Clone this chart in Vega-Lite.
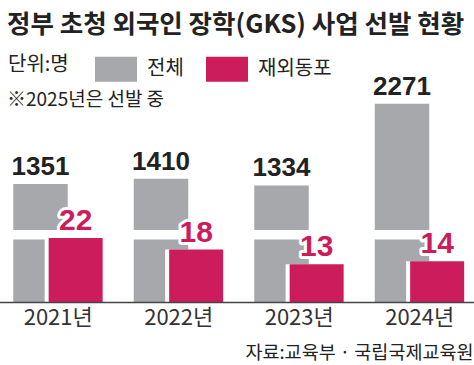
{
  "$schema": "https://vega.github.io/schema/vega-lite/v6.json",
  "width": 474,
  "height": 262,
  "autosize": "none",
  "padding": {"top": 40, "left": 0, "right": 0, "bottom": 63},
  "background": "white",
  "config": {"view": {"stroke": null}, "font": "Noto Sans CJK KR"},
  "title": {
    "text": "정부 초청 외국인 장학(GKS) 사업 선발 현황",
    "subtitle": "※2025년은 선발 중",
    "anchor": "start",
    "frame": "group",
    "orient": "top",
    "offset": -70,
    "dx": 7,
    "fontSize": 25.5,
    "fontWeight": "bold",
    "font": "Noto Sans CJK KR",
    "color": "#222222",
    "subtitleFontSize": 19,
    "subtitleColor": "#222222",
    "subtitleFont": "Noto Sans CJK KR",
    "subtitlePadding": 53
  },
  "data": {
    "values": [
      {"year": "2021년", "series": "전체", "value": 1351},
      {"year": "2022년", "series": "전체", "value": 1410},
      {"year": "2023년", "series": "전체", "value": 1334},
      {"year": "2024년", "series": "전체", "value": 2271},
      {"year": "2021년", "series": "재외동포", "value": 22},
      {"year": "2022년", "series": "재외동포", "value": 18},
      {"year": "2023년", "series": "재외동포", "value": 13},
      {"year": "2024년", "series": "재외동포", "value": 14}
    ]
  },
  "encoding": {
    "x": {
      "field": "year",
      "type": "nominal",
      "scale": {"range": [-2, 480], "paddingInner": 0, "paddingOuter": 0},
      "axis": {
        "labelAngle": 0,
        "labelFont": "Noto Sans CJK KR",
        "labelFontSize": 22,
        "labelColor": "#333333",
        "labelPadding": 5,
        "ticks": false,
        "domainColor": "#444444",
        "domainWidth": 1.5,
        "zindex": 1,
        "title": "자료:교육부 · 국립국제교육원",
        "titleFont": "Noto Sans CJK KR",
        "titleFontSize": 18.5,
        "titleFontWeight": "normal",
        "titleColor": "#222222",
        "titleAnchor": "end",
        "titleX": 473,
        "titlePadding": 15
      }
    }
  },
  "layer": [
    {
      "transform": [{"filter": "datum.series === '전체'"}],
      "layer": [
        {
          "mark": {"type": "bar", "width": 54.5, "xOffset": -17.75},
          "encoding": {
            "y": {"field": "value", "type": "quantitative", "scale": {"domain": [0, 2820]}, "axis": null},
            "color": {
              "field": "series",
              "type": "nominal",
              "scale": {"domain": ["전체", "재외동포"], "range": ["#a7a8ab", "#cc1c5c"]},
              "legend": {
                "title": "단위:명",
                "orient": "none",
                "legendX": 8,
                "legendY": 8,
                "direction": "horizontal",
                "titleOrient": "left",
                "titleFontSize": 20,
                "titleFontWeight": "normal",
                "titleColor": "#222222",
                "titleFont": "Noto Sans CJK KR",
                "titlePadding": 26,
                "labelFontSize": 20,
                "labelColor": "#222222",
                "labelFont": "Noto Sans CJK KR",
                "labelOffset": 10,
                "columnPadding": 22,
                "symbolType": "M-1,-0.595H1V0.595H-1Z",
                "symbolSize": 1764,
                "symbolStrokeWidth": 0,
                "symbolOpacity": 1
              }
            }
          }
        },
        {
          "mark": {"type": "bar", "width": 58, "xOffset": -17.75, "color": "white"},
          "encoding": {
            "y": {"datum": 716, "type": "quantitative"},
            "y2": {"datum": 823}
          }
        },
        {
          "mark": {"type": "text", "dx": -17.75, "dy": -9, "baseline": "alphabetic", "fontSize": 26, "fontWeight": "bold", "font": "Liberation Sans", "color": "#222222"},
          "encoding": {
            "y": {"field": "value", "type": "quantitative"},
            "text": {"field": "value", "type": "quantitative", "format": "d"}
          }
        }
      ]
    },
    {
      "transform": [{"filter": "datum.series === '재외동포'"}],
      "layer": [
        {
          "mark": {"type": "bar", "width": 62, "xOffset": 17.4, "color": "white"},
          "encoding": {
            "y": {"field": "value", "type": "quantitative", "scale": {"domain": [0, 87.3]}, "axis": null}
          }
        },
        {
          "mark": {"type": "bar", "width": 54, "xOffset": 17.4},
          "encoding": {
            "y": {"field": "value", "type": "quantitative"},
            "color": {"field": "series", "type": "nominal"}
          }
        },
        {
          "mark": {"type": "text", "dx": 17.4, "dy": -8, "baseline": "alphabetic", "fontSize": 30, "fontWeight": "bold", "font": "Liberation Sans", "color": "white", "stroke": "white", "strokeWidth": 6, "strokeJoin": "round"},
          "encoding": {
            "y": {"field": "value", "type": "quantitative"},
            "text": {"field": "value", "type": "quantitative", "format": "d"}
          }
        },
        {
          "mark": {"type": "text", "dx": 17.4, "dy": -8, "baseline": "alphabetic", "fontSize": 30, "fontWeight": "bold", "font": "Liberation Sans", "color": "#cc1c5c"},
          "encoding": {
            "y": {"field": "value", "type": "quantitative"},
            "text": {"field": "value", "type": "quantitative", "format": "d"}
          }
        }
      ]
    }
  ],
  "resolve": {"scale": {"y": "independent"}}
}
